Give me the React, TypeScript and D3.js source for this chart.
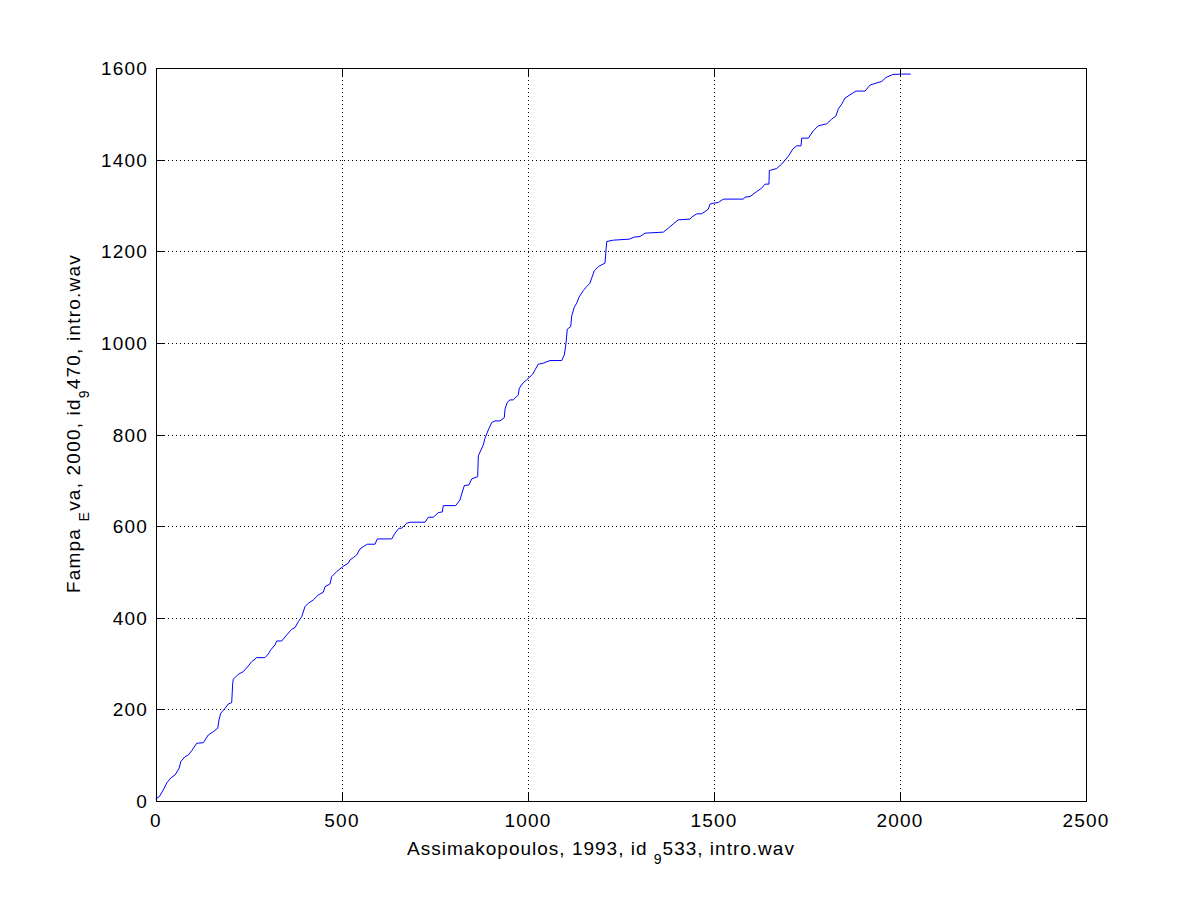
import React from "react";
import * as d3 from "d3";

const xValues: number[] = [
  0, 1.9, 8.9, 19.6, 28.8, 39.5, 51.1, 62.6, 66.4, 78.0, 86.8, 96.0, 109.4, 127.2, 140.6, 154.0, 165.9, 169.4, 173.9,
  185.5, 194.4, 203.5, 206.2, 207.8, 221.2, 234.7, 248.1, 257.3, 270.7, 293.0, 301.9, 308.3, 319.9, 324.5, 337.9,
  351.3, 364.8, 373.7, 382.5, 391.7, 400.5, 409.4, 422.8, 436.3, 449.7, 454.3, 467.7, 472.3, 485.8, 501.9, 516.9,
  521.5, 530.4, 539.5, 548.4, 557.3, 568.0, 588.7, 594.9, 633.6, 642.5, 653.2, 660.5, 673.9, 682.8, 723.1, 732.0,
  745.4, 758.9, 769.6, 772.3, 805.6, 817.2, 821.8, 828.8, 841.4, 848.7, 864.8, 866.4, 873.7, 879.8, 884.4, 893.3,
  902.4, 911.3, 924.7, 936.3, 938.2, 944.4, 951.6, 960.5, 973.9, 976.6, 987.4, 996.5, 1012.6, 1018.8, 1027.7, 1041.1,
  1059.1, 1090.6, 1097.6, 1102.2, 1105.6, 1114.8, 1117.5, 1124.5, 1130.9, 1137.1, 1148.7, 1157.8, 1166.7, 1171.2,
  1178.2, 1189.0, 1206.9, 1211.6, 1229.3, 1272.3, 1284.9, 1301.1, 1314.5, 1363.7, 1377.2, 1390.6, 1404.0, 1435.5,
  1440.1, 1453.5, 1467.0, 1475.8, 1484.7, 1489.2, 1498.1, 1511.6, 1525.0, 1578.8, 1583.3, 1596.8, 1614.8, 1628.2,
  1637.1, 1647.8, 1648.7, 1668.5, 1681.9, 1693.5, 1702.4, 1711.6, 1722.3, 1733.9, 1735.8, 1753.5, 1767.0, 1780.4,
  1803.0, 1816.4, 1828.0, 1834.1, 1843.3, 1852.2, 1865.6, 1881.7, 1905.9, 1919.4, 1935.5, 1950.8, 1962.4, 1980.4,
  2004.6, 2028.8,
];

const yValues: number[] = [
  2, 5.9, 9.4, 24.0, 39.3, 50.2, 56.8, 72.1, 85.8, 96.7, 100.4, 109.8, 126.0, 127.3, 144.1, 151.3, 158.7, 176.9, 191.5,
  202.4, 211.8, 214.6, 257.0, 265.7, 276.6, 282.3, 294.8, 304.1, 312.9, 312.9, 321.0, 329.7, 340.6, 349.3, 349.3,
  362.4, 374.9, 378.4, 391.5, 402.4, 424.2, 431.7, 438.9, 449.8, 455.7, 467.9, 473.8, 489.7, 500.7, 511.6, 519.0,
  526.2, 531.2, 537.1, 550.2, 555.2, 560.5, 560.5, 572.1, 572.1, 584.5, 595.4, 595.4, 606.3, 608.5, 608.5, 619.4,
  619.4, 629.5, 631.0, 644.8, 644.8, 657.2, 670.3, 688.4, 690.0, 703.1, 708.1, 753.3, 766.4, 777.3, 791.9, 810.0,
  826.0, 829.7, 829.7, 836.9, 855.2, 870.5, 875.5, 875.5, 886.5, 901.1, 913.3, 919.2, 931.7, 941.0, 953.5, 955.7,
  961.4, 961.4, 973.8, 999.3, 1029.9, 1035.6, 1059.0, 1078.0, 1086.7, 1099.8, 1114.2, 1123.0, 1130.4, 1141.3,
  1157.2, 1166.6, 1174.0, 1221.2, 1224.2, 1226.4, 1230.8, 1232.1, 1239.5, 1241.7, 1250.4, 1259.8, 1268.6, 1270.1,
  1274.5, 1281.7, 1281.7, 1286.7, 1291.9, 1302.8, 1305.0, 1306.3, 1313.8, 1313.8, 1318.1, 1319.4, 1330.3, 1337.8,
  1346.5, 1346.5, 1376.2, 1380.6, 1390.2, 1401.1, 1410.5, 1422.9, 1430.1, 1430.1, 1446.9, 1446.9, 1462.9, 1473.8,
  1478.2, 1488.4, 1495.6, 1510.3, 1521.2, 1534.3, 1541.5, 1549.6, 1549.6, 1562.7, 1567.0, 1570.5, 1579.3, 1585.8,
  1586.7, 1586.7,
];

const xTicks: number[] = [0, 500, 1000, 1500, 2000, 2500];
const yTicks: number[] = [0, 200, 400, 600, 800, 1000, 1200, 1400, 1600];

const W = 1200;
const H = 900;
const left = 156;
const right = 1086;
const top = 68;
const bottom = 801;
const FONT = "'Liberation Sans', Arial, Helvetica, sans-serif";
const FS = 19;
const SUB = 14;
const TICK = 9;

export default function App() {
  const x = d3.scaleLinear().domain([0, 2500]).range([left, right]);
  const y = d3.scaleLinear().domain([0, 1600]).range([bottom, top]);
  const pts: [number, number][] = xValues.map((v, i) => [v, yValues[i]]);
  const line = d3
    .line<[number, number]>()
    .x((d) => x(d[0]))
    .y((d) => y(d[1]))
    .curve(d3.curveLinear);

  return (
    <svg
      width={W}
      height={H}
      style={{ position: "absolute", left: 0, top: 0, background: "#fff" }}
      fontFamily={FONT}
    >
      <rect x={0} y={0} width={W} height={H} fill="#fff" />
      {/* grid */}
      {xTicks.slice(1, -1).map((t) => (
        <line
          key={"gx" + t}
          x1={x(t) + 0.5}
          x2={x(t) + 0.5}
          y1={top}
          y2={bottom}
          stroke="#000"
          strokeWidth={1}
          strokeDasharray="1,3"
        />
      ))}
      {yTicks.slice(1, -1).map((t) => (
        <line
          key={"gy" + t}
          x1={left}
          x2={right}
          y1={Math.round(y(t)) + 0.5}
          y2={Math.round(y(t)) + 0.5}
          stroke="#000"
          strokeWidth={1}
          strokeDasharray="1,3"
        />
      ))}
      {/* data line */}
      <path d={line(pts) || ""} fill="none" stroke="#0000ff" strokeWidth={1} />
      {/* box */}
      <rect x={left + 0.5} y={top + 0.5} width={right - left} height={bottom - top} fill="none" stroke="#000" strokeWidth={1} />
      {/* ticks */}
      {xTicks.map((t) => (
        <g key={"tx" + t}>
          <line x1={x(t) + 0.5} x2={x(t) + 0.5} y1={bottom} y2={bottom - TICK} stroke="#000" />
          <line x1={x(t) + 0.5} x2={x(t) + 0.5} y1={top} y2={top + TICK} stroke="#000" />
          <text x={x(t)} y={827} textAnchor="middle" fontSize={FS} letterSpacing={1.2} fill="#000">
            {t}
          </text>
        </g>
      ))}
      {yTicks.map((t) => (
        <g key={"ty" + t}>
          <line x1={left} x2={left + TICK} y1={Math.round(y(t)) + 0.5} y2={Math.round(y(t)) + 0.5} stroke="#000" />
          <line x1={right} x2={right - TICK} y1={Math.round(y(t)) + 0.5} y2={Math.round(y(t)) + 0.5} stroke="#000" />
          <text x={148} y={y(t) + 7} textAnchor="end" fontSize={FS} letterSpacing={1.2} fill="#000">
            {t}
          </text>
        </g>
      ))}
      {/* x label */}
      <text x={407} y={855} fontSize={FS} letterSpacing={1.0} fill="#000">
        Assimakopoulos, 1993, id{" "}
        <tspan fontSize={SUB} dy={9}>9</tspan>
        <tspan dy={-9}>533, intro.wav</tspan>
      </text>
      {/* y label */}
      <text
        transform={`translate(80,593) rotate(-90)`}
        textAnchor="start"
        fontSize={FS}
        letterSpacing={1.2}
        fill="#000"
      >
        Fampa{" "}
        <tspan fontSize={SUB} dy={9}>E</tspan>
        <tspan dy={-9}>va, 2000, id</tspan>
        <tspan fontSize={SUB} dy={9}>9</tspan>
        <tspan dy={-9}>470, intro.wav</tspan>
      </text>
    </svg>
  );
}
